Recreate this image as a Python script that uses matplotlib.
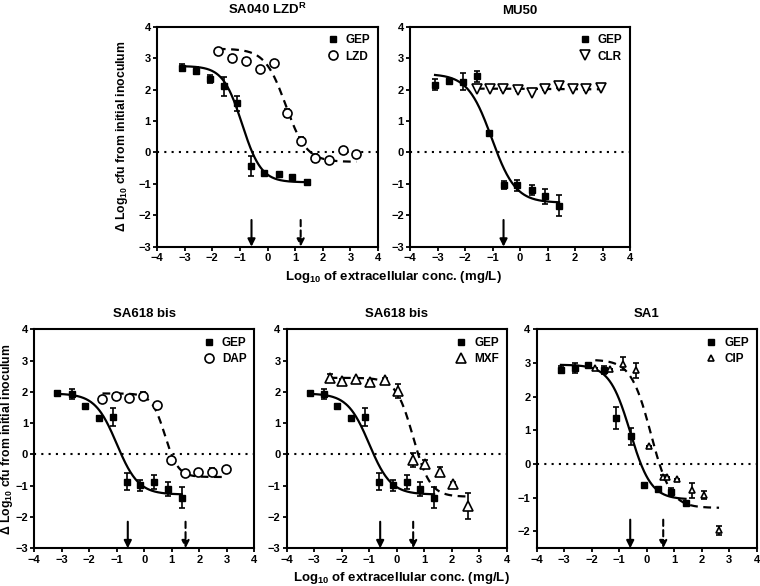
import numpy as np
import matplotlib
matplotlib.use("Agg")
import matplotlib.pyplot as plt

plt.rcParams['font.family'] = ['Liberation Sans', 'DejaVu Sans']
plt.rcParams['font.weight'] = 'bold'
plt.rcParams['mathtext.fontset'] = 'custom'
plt.rcParams['mathtext.rm'] = 'Liberation Sans:bold'
plt.rcParams['mathtext.bf'] = 'Liberation Sans:bold'
plt.rcParams['mathtext.it'] = 'Liberation Sans:bold'
plt.rcParams['mathtext.default'] = 'rm'

# ---------------- data (log10 mg/L, delta log10 cfu) ----------------
# SA040 LZD-R
sa040_gep_x = [-3.10, -2.58, -2.10, -1.59, -1.10, -0.58, -0.11, 0.41, 0.90, 1.42]
sa040_gep_y = [2.70, 2.60, 2.34, 2.10, 1.56, -0.43, -0.64, -0.70, -0.77, -0.93]
sa040_gep_e = [0.12, 0.12, 0.12, 0.30, 0.25, 0.33, 0.05, 0.05, 0.05, 0.05]
sa040_lzd_x = [-1.80, -1.28, -0.78, -0.29, 0.23, 0.72, 1.22, 1.72, 2.23, 2.72, 3.22]
sa040_lzd_y = [3.22, 2.99, 2.91, 2.66, 2.86, 1.25, 0.37, -0.17, -0.24, 0.09, -0.05]
sa040_lzd_e = [0.0, 0.12, 0.08, 0.05, 0.0, 0.12, 0.12, 0.12, 0.05, 0.0, 0.0]

# MU50
mu50_gep_x = [-3.09, -2.57, -2.08, -1.57, -1.12, -0.58, -0.12, 0.43, 0.89, 1.42]
mu50_gep_y = [2.16, 2.28, 2.25, 2.42, 0.63, -1.03, -1.05, -1.20, -1.40, -1.70]
mu50_gep_e = [0.18, 0.05, 0.27, 0.17, 0.05, 0.12, 0.17, 0.15, 0.25, 0.33]
mu50_clr_x = [-1.57, -1.09, -0.61, -0.06, 0.43, 0.91, 1.43, 1.92, 2.40, 2.94]
mu50_clr_y = [2.03, 2.01, 2.03, 2.00, 1.90, 2.03, 2.10, 2.02, 2.03, 2.05]
mu50_clr_e = [0.0, 0.0, 0.05, 0.05, 0.0, 0.05, 0.05, 0.0, 0.05, 0.0]

# SA618 bis
sa618_gep_x = [-3.16, -2.64, -2.16, -1.65, -1.15, -0.64, -0.14, 0.37, 0.85, 1.36]
sa618_gep_y = [1.97, 1.93, 1.54, 1.18, 1.20, -0.87, -0.99, -0.88, -1.10, -1.38]
sa618_gep_e = [0.05, 0.17, 0.05, 0.05, 0.30, 0.27, 0.17, 0.23, 0.22, 0.33]
sa618_dap_x = [-1.52, -1.04, -0.54, -0.03, 0.48, 0.98, 1.49, 1.97, 2.47, 2.98]
sa618_dap_y = [1.77, 1.86, 1.80, 1.88, 1.57, -0.19, -0.59, -0.55, -0.55, -0.45]
sa618_dap_e = [0.0, 0.10, 0.0, 0.12, 0.0, 0.10, 0.0, 0.0, 0.12, 0.0]
sa618_mxf_x = [-2.44, -1.99, -1.47, -0.96, -0.41, 0.05, 0.58, 1.03, 1.57, 2.04, 2.59]
sa618_mxf_y = [2.46, 2.35, 2.40, 2.33, 2.38, 2.02, -0.17, -0.31, -0.55, -0.93, -1.64]
sa618_mxf_e = [0.12, 0.05, 0.05, 0.05, 0.05, 0.22, 0.22, 0.12, 0.15, 0.05, 0.42]

# SA1
sa1_gep_x = [-3.12, -2.59, -2.12, -1.57, -1.11, -0.58, -0.09, 0.40, 0.90, 1.41]
sa1_gep_y = [2.80, 2.86, 2.93, 2.80, 1.37, 0.83, -0.62, -0.74, -0.83, -1.15]
sa1_gep_e = [0.10, 0.15, 0.05, 0.12, 0.33, 0.25, 0.05, 0.05, 0.12, 0.05]
sa1_cip_x = [-1.87, -1.35, -0.86, -0.38, 0.10, 0.60, 0.74, 1.11, 1.63, 2.10, 2.63]
sa1_cip_y = [2.84, 2.81, 2.98, 2.79, 0.54, -0.38, -0.38, -0.45, -0.78, -0.91, -1.97]
sa1_cip_e = [0.0, 0.0, 0.20, 0.22, 0.0, 0.05, 0.0, 0.0, 0.22, 0.12, 0.12]

# fitted Hill curves: top, bottom, logEC50, slope
sa040_gep_fit = [2.75, -0.95, -0.92, 1.25]
sa040_lzd_fit = [3.30, -0.30, 0.66, 1.15]
mu50_gep_fit = [2.50, -1.60, -1.03, 1.0]
mu50_clr_fit = [2.03, 2.01, 0.5, 1.0]
sa618_gep_fit = [1.95, -1.28, -1.00, 1.1]
sa618_dap_fit = [1.95, -0.72, 0.75, 1.8]
sa618_mxf_fit = [2.45, -1.35, 0.60, 1.4]
sa1_gep_fit = [2.95, -1.05, -0.60, 1.15]
sa1_cip_fit = [3.10, -1.30, 0.15, 1.2]

# arrows: GEP (solid) and comparator (dashed) positions
sa040_arrows = [-0.58, 1.20]
mu50_arrows = [-0.60, None]
sa618_dap_arrows = [-0.60, 1.50]
sa618_mxf_arrows = [-0.60, 0.60]
sa1_arrows = [-0.60, 0.60]


def hill(x, top, bottom, logec50, slope):
    return bottom + (top - bottom) / (1 + 10 ** ((x - logec50) * slope))


def draw_panel(ax, title, gep, gep_fit, comp, comp_fit, comp_label, comp_marker,
               comp_ms, arrows, ymin):
    ax.axhline(0, color='k', ls=(0, (1, 2.5)), lw=1.5, zorder=1)

    # GEP
    gx, gy, ge = gep
    xs = np.linspace(min(gx), max(gx), 200)
    ax.plot(xs, hill(xs, *gep_fit), color='k', lw=1.6, zorder=2)
    ax.errorbar(gx, gy, yerr=ge, fmt='none', ecolor='k', elinewidth=1.2,
                capsize=2.5, capthick=1.2, zorder=3)
    ax.plot(gx, gy, ls='none', marker='s', ms=5, color='k', zorder=4, label='GEP')

    # comparator
    cx, cy, ce = comp
    xs = np.linspace(min(cx), max(cx), 200)
    ax.plot(xs, hill(xs, *comp_fit), color='k', lw=1.6, ls=(0, (3.5, 2.5)), zorder=2)
    ax.errorbar(cx, cy, yerr=ce, fmt='none', ecolor='k', elinewidth=1.2,
                capsize=2.5, capthick=1.2, zorder=3)
    ax.plot(cx, cy, ls='none', marker=comp_marker, ms=comp_ms, mfc='white',
            mec='k', mew=1.2, zorder=4, label=comp_label)

    # arrows
    for xa, style in zip(arrows, ['-', (0, (3, 2))]):
        if xa is None:
            continue
        ax.annotate('', xy=(xa, ymin), xytext=(xa, ymin + 0.85),
                    arrowprops=dict(arrowstyle='-|>', lw=1.5, ls=style, color='k',
                                    mutation_scale=11, shrinkA=0, shrinkB=0),
                    zorder=5)

    ax.set_xlim(-4, 4)
    ax.set_ylim(ymin, 4)
    ax.set_xticks(range(-4, 5))
    ax.set_yticks(range(int(np.ceil(ymin)), 5))
    ax.tick_params(direction='out', length=3, width=1.3, labelsize=8, pad=1.5)
    for lab in ax.get_xticklabels() + ax.get_yticklabels():
        lab.set_fontweight('bold')
    for s in ax.spines.values():
        s.set_linewidth(1.5)
    ax.set_title(title, fontsize=9.5, fontweight='bold', pad=9)
    ax.legend(loc='upper right', frameon=False, handletextpad=0.6,
              borderaxespad=0.25, labelspacing=0.35, handlelength=1.0,
              prop={'weight': 'bold', 'size': 8.5})


fig = plt.figure(figsize=(7.6, 5.86), dpi=100)

ax1 = fig.add_axes([0.2066, 0.579, 0.2908, 0.3754])
ax2 = fig.add_axes([0.5395, 0.579, 0.2895, 0.3754])
ax3 = fig.add_axes([0.0451, 0.0643, 0.2895, 0.3737])
ax4 = fig.add_axes([0.3772, 0.0643, 0.2895, 0.3737])
ax5 = fig.add_axes([0.7062, 0.0643, 0.2895, 0.3737])

draw_panel(ax1, r'SA040 LZD$^{R}$',
           (sa040_gep_x, sa040_gep_y, sa040_gep_e), sa040_gep_fit,
           (sa040_lzd_x, sa040_lzd_y, sa040_lzd_e), sa040_lzd_fit,
           'LZD', 'o', 6.5, sa040_arrows, -3)
draw_panel(ax2, 'MU50',
           (mu50_gep_x, mu50_gep_y, mu50_gep_e), mu50_gep_fit,
           (mu50_clr_x, mu50_clr_y, mu50_clr_e), mu50_clr_fit,
           'CLR', 'v', 6.5, mu50_arrows, -3)
draw_panel(ax3, 'SA618 bis',
           (sa618_gep_x, sa618_gep_y, sa618_gep_e), sa618_gep_fit,
           (sa618_dap_x, sa618_dap_y, sa618_dap_e), sa618_dap_fit,
           'DAP', 'o', 6.5, sa618_dap_arrows, -3)
draw_panel(ax4, 'SA618 bis',
           (sa618_gep_x, sa618_gep_y, sa618_gep_e), sa618_gep_fit,
           (sa618_mxf_x, sa618_mxf_y, sa618_mxf_e), sa618_mxf_fit,
           'MXF', '^', 6.5, sa618_mxf_arrows, -3)
draw_panel(ax5, 'SA1',
           (sa1_gep_x, sa1_gep_y, sa1_gep_e), sa1_gep_fit,
           (sa1_cip_x, sa1_cip_y, sa1_cip_e), sa1_cip_fit,
           'CIP', '^', 5, sa1_arrows, -2.5)

ylab = r'$\Delta$ Log$_{10}$ cfu from initial inoculum'
ax1.set_ylabel(ylab, fontsize=8.8, fontweight='bold')
ax1.yaxis.set_label_coords(-0.12, 0.5)
ax3.set_ylabel(ylab, fontsize=8.8, fontweight='bold')
ax3.yaxis.set_label_coords(-0.088, 0.5)

xlab = r'Log$_{10}$ of extracellular conc. (mg/L)'
fig.text(0.518, 0.527, xlab, ha='center', va='center', fontsize=9.5, fontweight='bold')
fig.text(0.528, 0.014, xlab, ha='center', va='center', fontsize=9.5, fontweight='bold')

fig.savefig('out.png', dpi=100)
